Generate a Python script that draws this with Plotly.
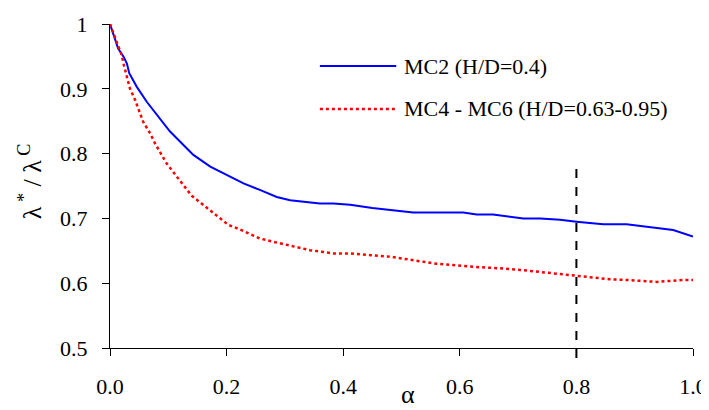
import plotly.graph_objects as go

# ---- data ----
alpha_mc2 = [0, 0.007, 0.014, 0.023, 0.029, 0.033, 0.046, 0.063, 0.086, 0.103, 0.123,
             0.143, 0.172, 0.206, 0.229, 0.257, 0.286, 0.309, 0.331, 0.36, 0.383,
             0.412, 0.45, 0.52, 0.606, 0.629, 0.657, 0.709, 0.738, 0.772, 0.80,
             0.846, 0.886, 0.926, 0.966, 1.0]
ratio_mc2 = [1.0, 0.980, 0.962, 0.950, 0.939, 0.924, 0.903, 0.880, 0.854, 0.834, 0.816,
             0.798, 0.780, 0.764, 0.754, 0.744, 0.733, 0.728, 0.726, 0.723, 0.723,
             0.721, 0.716, 0.709, 0.709, 0.706, 0.706, 0.700, 0.700, 0.698, 0.695,
             0.691, 0.691, 0.687, 0.682, 0.672]

alpha_mc46 = [0, 0.009, 0.020, 0.024, 0.034, 0.043, 0.057, 0.069, 0.077, 0.097, 0.123,
              0.140, 0.157, 0.172, 0.203, 0.22, 0.240, 0.257, 0.28, 0.303, 0.343,
              0.383, 0.412, 0.48, 0.515, 0.56, 0.629, 0.686, 0.72, 0.778, 0.806,
              0.838, 0.858, 0.886, 0.938, 0.983, 1.0]
ratio_mc46 = [1.0, 0.978, 0.952, 0.936, 0.901, 0.883, 0.849, 0.831, 0.816, 0.785, 0.754,
              0.735, 0.723, 0.712, 0.690, 0.684, 0.676, 0.669, 0.664, 0.659, 0.651,
              0.646, 0.646, 0.641, 0.636, 0.630, 0.625, 0.622, 0.619, 0.614, 0.611,
              0.608, 0.606, 0.605, 0.602, 0.605, 0.605]

marker_alpha = 0.8
x_ticks = [0.0, 0.2, 0.4, 0.6, 0.8, 1.0]
y_ticks = [0.5, 0.6, 0.7, 0.8, 0.9, 1.0]
y_ticklabels = ["0.5", "0.6", "0.7", "0.8", "0.9", "1"]
series_names = ["MC2 (H/D=0.4)", "MC4 - MC6 (H/D=0.63-0.95)"]

FONT = "Liberation Serif"

fig = go.Figure()
fig.add_trace(go.Scatter(x=alpha_mc2, y=ratio_mc2, mode="lines",
                         line=dict(color="#0000FF", width=2), showlegend=False))
fig.add_trace(go.Scatter(x=alpha_mc46, y=ratio_mc46, mode="lines",
                         line=dict(color="#FF0000", width=2.5, dash="dot"),
                         showlegend=False))

# vertical dashed reference line at alpha = 0.8
fig.add_shape(type="line", xref="x", yref="paper", x0=marker_alpha, x1=marker_alpha,
              y0=-0.031, y1=0.556, line=dict(color="black", width=2, dash="dash"))

# custom legend
leg = [(0.870, dict(color="#0000FF", width=2)),
       (0.738, dict(color="#FF0000", width=2.5, dash="dot"))]
for (yy, ln), name in zip(leg, series_names):
    fig.add_shape(type="line", xref="paper", yref="paper", x0=0.360, x1=0.491,
                  y0=yy, y1=yy, line=ln)
    fig.add_annotation(xref="paper", yref="paper", x=0.501, y=yy, text=name,
                       showarrow=False, xanchor="left", yanchor="middle",
                       font=dict(family=FONT, size=22, color="black"))

# axis titles
fig.add_annotation(xref="paper", yref="paper", x=0.511, y=-0.145, text="\u03b1",
                   showarrow=False, xanchor="center", yanchor="middle",
                   font=dict(family=FONT, size=26, color="black"))
fig.add_annotation(xref="paper", yref="paper", x=-0.137, y=0.515,
                   text="\u03bb<sup> *</sup> / \u03bb<sup> C</sup>", textangle=-90,
                   showarrow=False, xanchor="center", yanchor="middle",
                   font=dict(family=FONT, size=26, color="black"))

# page body has an 8px margin, so the figure is 8px smaller than the window
fig.update_layout(
    width=701, height=402,
    margin=dict(l=102, r=16, t=16, b=62, autoexpand=False),
    plot_bgcolor="white", paper_bgcolor="white",
    font=dict(family=FONT, size=22, color="black"),
)
fig.update_xaxes(range=[0, 1], tickvals=x_ticks, tickformat=".1f",
                 showgrid=False, zeroline=False, showline=True, linecolor="black",
                 linewidth=1, ticks="outside", ticklen=7, tickcolor="black",
                 ticklabelstandoff=12, automargin=False)
fig.update_yaxes(range=[0.5, 1], tickvals=y_ticks, ticktext=y_ticklabels,
                 showgrid=False, zeroline=False, showline=True, linecolor="black",
                 linewidth=1, ticks="outside", ticklen=7, tickcolor="black",
                 ticklabelstandoff=10, automargin=False)

fig.write_html("out.html")
